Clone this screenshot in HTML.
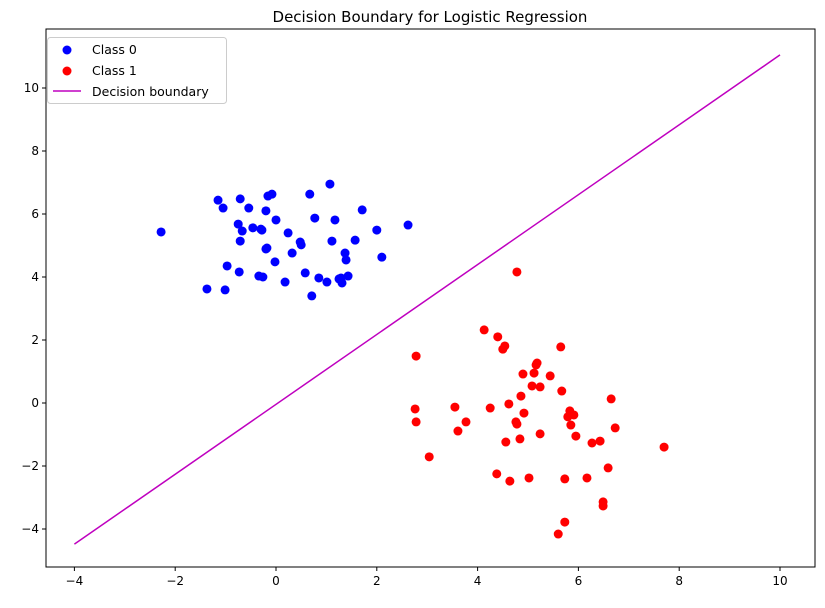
<!DOCTYPE html>
<html><head><meta charset="utf-8"><style>
body{margin:0;background:#fff}
svg{font-family:"DejaVu Sans","Liberation Sans",sans-serif}
</style></head><body>
<svg id="chart" width="825" height="603"></svg>
<script>
const blueX=[-2.28,-1.37,-1.15,-1.05,-1.01,-0.97,-0.75,-0.71,-0.73,-0.71,-0.67,-0.54,-0.46,-0.34,-0.30,-0.28,-0.26,-0.20,-0.20,-0.18,-0.16,-0.08,-0.02,0.00,0.18,0.24,0.32,0.48,0.50,0.58,0.67,0.71,0.77,0.85,1.01,1.07,1.11,1.17,1.25,1.29,1.31,1.37,1.39,1.43,1.57,1.71,2.00,2.10,2.62];
const blueY=[5.43,3.62,6.44,6.19,3.59,4.35,5.68,6.48,4.16,5.14,5.46,6.19,5.56,4.03,5.52,5.49,4.00,6.10,4.89,4.92,6.57,6.63,4.48,5.81,3.84,5.40,4.76,5.11,5.02,4.13,6.63,3.40,5.87,3.97,3.84,6.95,5.14,5.81,3.94,3.97,3.81,4.76,4.54,4.03,5.17,6.13,5.49,4.63,5.65];
const redX=[2.78,2.76,2.78,3.04,3.55,3.61,3.77,4.13,4.25,4.38,4.40,4.50,4.54,4.56,4.62,4.64,4.76,4.78,4.84,4.86,4.90,4.92,5.02,5.08,5.12,5.16,5.18,5.24,5.24,5.44,5.60,5.65,5.67,5.73,5.73,5.79,5.83,5.85,5.91,5.95,6.17,6.27,6.43,6.49,6.49,6.59,6.65,6.73,7.70,4.78];
const redY=[1.49,-0.19,-0.60,-1.71,-0.13,-0.89,-0.60,2.32,-0.16,-2.25,2.10,1.71,1.81,-1.24,-0.03,-2.48,-0.60,-0.67,-1.14,0.22,0.92,-0.32,-2.38,0.54,0.95,1.21,1.27,0.51,-0.98,0.86,-4.16,1.78,0.38,-2.41,-3.78,-0.44,-0.25,-0.70,-0.38,-1.05,-2.38,-1.27,-1.21,-3.27,-3.14,-2.06,0.13,-0.79,-1.40,4.16];
const lineX=[-4,10];
const lineY=[-4.48,11.05];
const xTicks=[-4,-2,0,2,4,6,8,10];
const yTicks=[-4,-2,0,2,4,6,8,10];
const NS="http://www.w3.org/2000/svg";
const svg=document.getElementById('chart');
const sx=v=>276+v*50.4, sy=v=>403-v*31.5;
function el(t,a,p){const e=document.createElementNS(NS,t);for(const k in a)e.setAttribute(k,a[k]);(p||svg).appendChild(e);return e;}
const L=46,R=815,T=29,B=567;
let t=el('text',{x:430,y:22,'text-anchor':'middle','font-size':15});t.textContent='Decision Boundary for Logistic Regression';


xTicks.forEach(v=>{const x=sx(v);el('line',{x1:x,x2:x,y1:B,y2:B+4,stroke:'#000'});
let tx=el('text',{x:x,y:B+18,'text-anchor':'middle','font-size':12});tx.textContent=v<0?'−'+(-v):v;

});
yTicks.forEach(v=>{const y=sy(v);el('line',{x1:L-4,x2:L,y1:y,y2:y,stroke:'#000'});
let ty=el('text',{x:L-7,y:y+4,'text-anchor':'end','font-size':12});ty.textContent=v<0?'−'+(-v):v;

});
blueX.forEach((x,i)=>{const c=el('circle',{cx:sx(x),cy:sy(blueY[i]),r:4.5,fill:'#0000ff'});

});
redX.forEach((x,i)=>{const c=el('circle',{cx:sx(x),cy:sy(redY[i]),r:4.5,fill:'#ff0000'});

});
const ln=el('line',{x1:sx(lineX[0]),y1:sy(lineY[0]),x2:sx(lineX[1]),y2:sy(lineY[1]),stroke:'#bf00bf','stroke-width':1.5});


el('rect',{x:L,y:T,width:R-L,height:B-T,fill:'none',stroke:'#000','stroke-width':1});
const lg=el('g',{});


el('rect',{x:47.5,y:37.5,width:179,height:66,rx:3,fill:'#fff',stroke:'#ccc'},lg);
el('circle',{cx:67,cy:50,r:4.5,fill:'#0000ff'},lg);
el('circle',{cx:67,cy:71,r:4.5,fill:'#ff0000'},lg);
el('line',{x1:53,x2:81,y1:91,y2:91,stroke:'#bf00bf','stroke-width':1.5},lg);
[['Class 0',54],['Class 1',75],['Decision boundary',96]].forEach(([s,y])=>{const e=el('text',{x:92,y:y,'font-size':12.5},lg);e.textContent=s;

});
</script>
</body></html>
